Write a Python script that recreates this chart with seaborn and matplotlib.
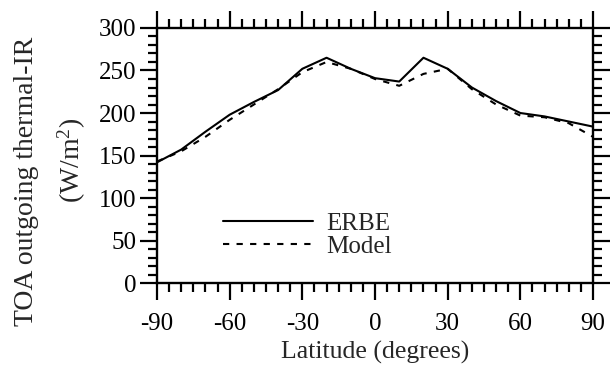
import numpy as np
import pandas as pd
import seaborn as sns
import matplotlib
matplotlib.use("Agg")
import matplotlib.pyplot as plt
from matplotlib.ticker import MultipleLocator
from matplotlib.lines import Line2D

lat = [-90, -80, -70, -60, -50, -40, -30, -20, -10, 0, 10, 20, 30, 40, 50, 60, 70, 80, 90]
erbe = [142, 157, 178, 198, 213, 227, 252, 265, 252, 241, 237, 265, 252, 230, 214, 200, 196, 190, 184]
model = [143, 155, 172, 192, 210, 228, 248, 260, 252, 240, 232, 246, 252, 228, 210, 197, 195, 188, 172]

df = pd.DataFrame({
    "lat": lat * 2,
    "olr": erbe + model,
    "src": ["ERBE"] * len(lat) + ["Model"] * len(lat),
})

sns.set_style("ticks")
plt.rcParams["font.family"] = ["Liberation Serif", "DejaVu Serif"]
plt.rcParams["mathtext.fontset"] = "custom"
plt.rcParams["mathtext.rm"] = "Liberation Serif"
plt.rcParams["mathtext.it"] = "Liberation Serif:italic"
plt.rcParams["axes.unicode_minus"] = False

fig = plt.figure(figsize=(6.12, 3.73), dpi=100)
ax = fig.add_axes([0.2565, 0.241, 0.7125, 0.684])

sns.lineplot(data=df, x="lat", y="olr", hue="src", style="src",
             palette={"ERBE": "black", "Model": "black"},
             dashes={"ERBE": "", "Model": (3, 3.5)},
             linewidth=1.5, ax=ax, legend=False)

ax.set_xlim(-90, 90)
ax.set_ylim(0, 300)
ax.xaxis.set_major_locator(MultipleLocator(30))
ax.xaxis.set_minor_locator(MultipleLocator(5))
ax.yaxis.set_major_locator(MultipleLocator(50))
ax.yaxis.set_minor_locator(MultipleLocator(10))

for s in ax.spines.values():
    s.set_visible(True)
    s.set_linewidth(1.7)
    s.set_color("black")

ax.tick_params(which="both", direction="out", top=True, right=True,
               color="black", width=1.6, labelsize=18, labelcolor="black")
ax.tick_params(which="major", length=12)
ax.tick_params(which="minor", length=6.5)
ax.tick_params(axis="x", which="major", pad=9.5)
ax.tick_params(axis="y", which="major", pad=3)

ax.set_xlabel("Latitude (degrees)", fontsize=18.5, labelpad=4)
ax.set_ylabel("")
fig.text(27 / 612, 1 - 181 / 373, "TOA outgoing thermal-IR", rotation=90,
         ha="center", va="center", fontsize=20)
fig.text(72 / 612, 1 - 160 / 373, "(W/m$^2$)", rotation=90,
         ha="center", va="center", fontsize=20)

handles = [Line2D([], [], color="black", lw=1.5),
           Line2D([], [], color="black", lw=1.5, dashes=(3, 3.5))]
ax.legend(handles, ["ERBE", "Model"], loc="lower left",
          bbox_to_anchor=(0.151, 0.10), frameon=False, fontsize=18,
          handlelength=3.6, handletextpad=0.55, labelspacing=0.0,
          borderpad=0, borderaxespad=0)

fig.savefig("out.png", dpi=100)
